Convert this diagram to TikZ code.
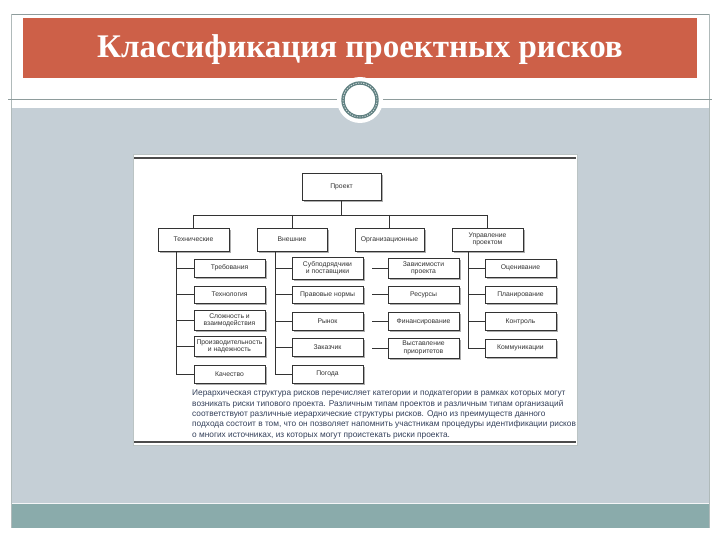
\documentclass[tikz,border=0pt]{standalone}
\usepackage{fontspec}
\setmainfont{Liberation Serif}
\newfontfamily\sansf{Liberation Sans}
\usetikzlibrary{shadows}
\definecolor{titlebar}{HTML}{CD6048}
\definecolor{bodycol}{HTML}{C5CFD6}
\definecolor{bandcol}{HTML}{8AABAB}
\definecolor{framecol}{HTML}{8E9C9C}
\definecolor{ringcol}{HTML}{5F8081}
\definecolor{boxline}{HTML}{333333}
\definecolor{captcol}{HTML}{34405A}
\tikzset{
  boxbase/.style={rectangle, draw=boxline, line width=0.7pt, fill=white, align=center,
    font=\sansf\fontsize{6.8}{7.4}\selectfont, text=black!80, inner sep=1pt,
    drop shadow={shadow xshift=1.6pt, shadow yshift=-1.6pt, fill=black!40, opacity=0.8}},
  topbox/.style={boxbase, minimum width=70pt, minimum height=23pt},
  leaf/.style={boxbase, minimum width=71pt, minimum height=18pt},
  leaftwo/.style={boxbase, minimum width=71pt, minimum height=20pt},
  conn/.style={draw=boxline, line width=0.7pt},
}
\begin{document}
\begin{tikzpicture}[x=1pt,y=-1pt]
\useasboundingbox (0,0) rectangle (720,540);
\fill[white] (0,0) rectangle (720,540);
% slide frame
\fill[bodycol] (11,108) rectangle (709,503);
\fill[bandcol] (11,503) rectangle (709,528);
\draw[white!80!bodycol, line width=1pt] (11,503.5) -- (709,503.5);
\draw[framecol, line width=0.8pt] (11,14) -- (709,14);
\draw[framecol!70, line width=0.8pt] (11,14) -- (11,528);
\draw[framecol!70, line width=0.8pt] (709,14) -- (709,528);
% title bar
\fill[titlebar] (23,18) rectangle (697,78);
\node (title) at (360,50) {\fontsize{33}{36}\selectfont\bfseries\color{white}Классификация проектных рисков};
% separator with ornament
\draw[framecol, line width=1pt] (8,100) -- (712,100);
\coordinate (orn) at (360,100);
\fill[white] (orn) circle (23);
\draw[ringcol, line width=3.4pt] (orn) circle (17);
\draw[white!75!ringcol, line width=0.8pt, dash pattern=on 1.3pt off 1.3pt] (orn) circle (17);
% figure
\draw[framecol!60, line width=1pt, fill=white] (133,155) rectangle (577,445);
\draw[black!70, line width=1.2pt] (134,158) -- (576,158);
\draw[black!70, line width=1.2pt] (134,442) -- (576,442);
% root and categories
\node[boxbase, minimum width=79pt, minimum height=27pt] (p) at (341.5,186.5) {Проект};
\node[topbox, minimum width=71pt] (t1) at (193.5,239.5) {Технические};
\node[topbox] (t2) at (292,239.5) {Внешние};
\node[topbox, minimum width=69pt] (t3) at (389.5,239.5) {Организационные};
\node[topbox, minimum width=71pt] (t4) at (487.5,239.5) {Управление\\проектом};
% technical
\node[leaf] (a1) at (229.5,268) {Требования};
\node[leaf, minimum height=17pt] (a2) at (229.5,294.5) {Технология};
\node[leaftwo] (a3) at (229.5,320.5) {Сложность и\\взаимодействия};
\node[leaftwo] (a4) at (229.5,346.5) {Производительность\\и надежность};
\node[leaf] (a5) at (229.5,374) {Качество};
% external
\node[leaftwo, minimum height=22pt] (b1) at (327.5,268) {Субподрядчики\\и поставщики};
\node[leaf, minimum height=17pt] (b2) at (327.5,294.5) {Правовые нормы};
\node[leaf] (b3) at (327.5,321) {Рынок};
\node[leaf] (b4) at (327.5,347) {Заказчик};
\node[leaf] (b5) at (327.5,374) {Погода};
% organizational
\node[leaftwo] (c1) at (423.5,268.5) {Зависимости\\проекта};
\node[leaf, minimum height=17pt] (c2) at (423.5,294.5) {Ресурсы};
\node[leaf] (c3) at (423.5,321.5) {Финансирование};
\node[leaftwo] (c4) at (423.5,348) {Выставление\\приоритетов};
% project management
\node[leaf] (d1) at (520.5,268) {Оценивание};
\node[leaf, minimum height=17pt] (d2) at (520.5,294.5) {Планирование};
\node[leaf] (d3) at (520.5,321.5) {Контроль};
\node[leaf] (d4) at (520.5,348) {Коммуникации};
% connectors
\coordinate (bus) at (0,215);
\draw[conn] (p.south) -- (p.south |- bus);
\draw[conn] (t1.north |- bus) -- (t4.north |- bus);
\foreach \t in {t1,t2,t3,t4} \draw[conn] (\t.north |- bus) -- (\t.north);
\coordinate (ta) at (176,0);
\coordinate (tb) at (275,0);
\coordinate (tc) at (372,0);
\coordinate (td) at (468,0);
\draw[conn] (ta |- t1.south) -- (ta |- a5.west);
\foreach \n in {a1,a2,a3,a4,a5} \draw[conn] (ta |- \n.west) -- (\n.west);
\draw[conn] (tb |- t2.south) -- (tb |- b5.west);
\foreach \n in {b1,b2,b3,b4,b5} \draw[conn] (tb |- \n.west) -- (\n.west);
\foreach \n in {c1,c2,c3,c4} \draw[conn] (tc |- \n.west) -- (\n.west);
\draw[conn] (td |- t4.south) -- (td |- d4.west);
\foreach \n in {d1,d2,d3,d4} \draw[conn] (td |- \n.west) -- (\n.west);
% caption
\node[anchor=north west, inner sep=0pt, align=left, text=captcol,
  font=\sansf\fontsize{8.3}{10.3}\selectfont] (caption) at (192,390)
  {Иерархическая структура рисков перечисляет категории и подкатегории в рамках которых могут\\
   возникать риски типового проекта. Различным типам проектов и различным типам организаций\\
   соответствуют различные иерархические структуры рисков. Одно из преимуществ данного\\
   подхода состоит в том, что он позволяет напомнить участникам процедуры идентификации рисков\\
   о многих источниках, из которых могут проистекать риски проекта.};
\end{tikzpicture}
\end{document}
